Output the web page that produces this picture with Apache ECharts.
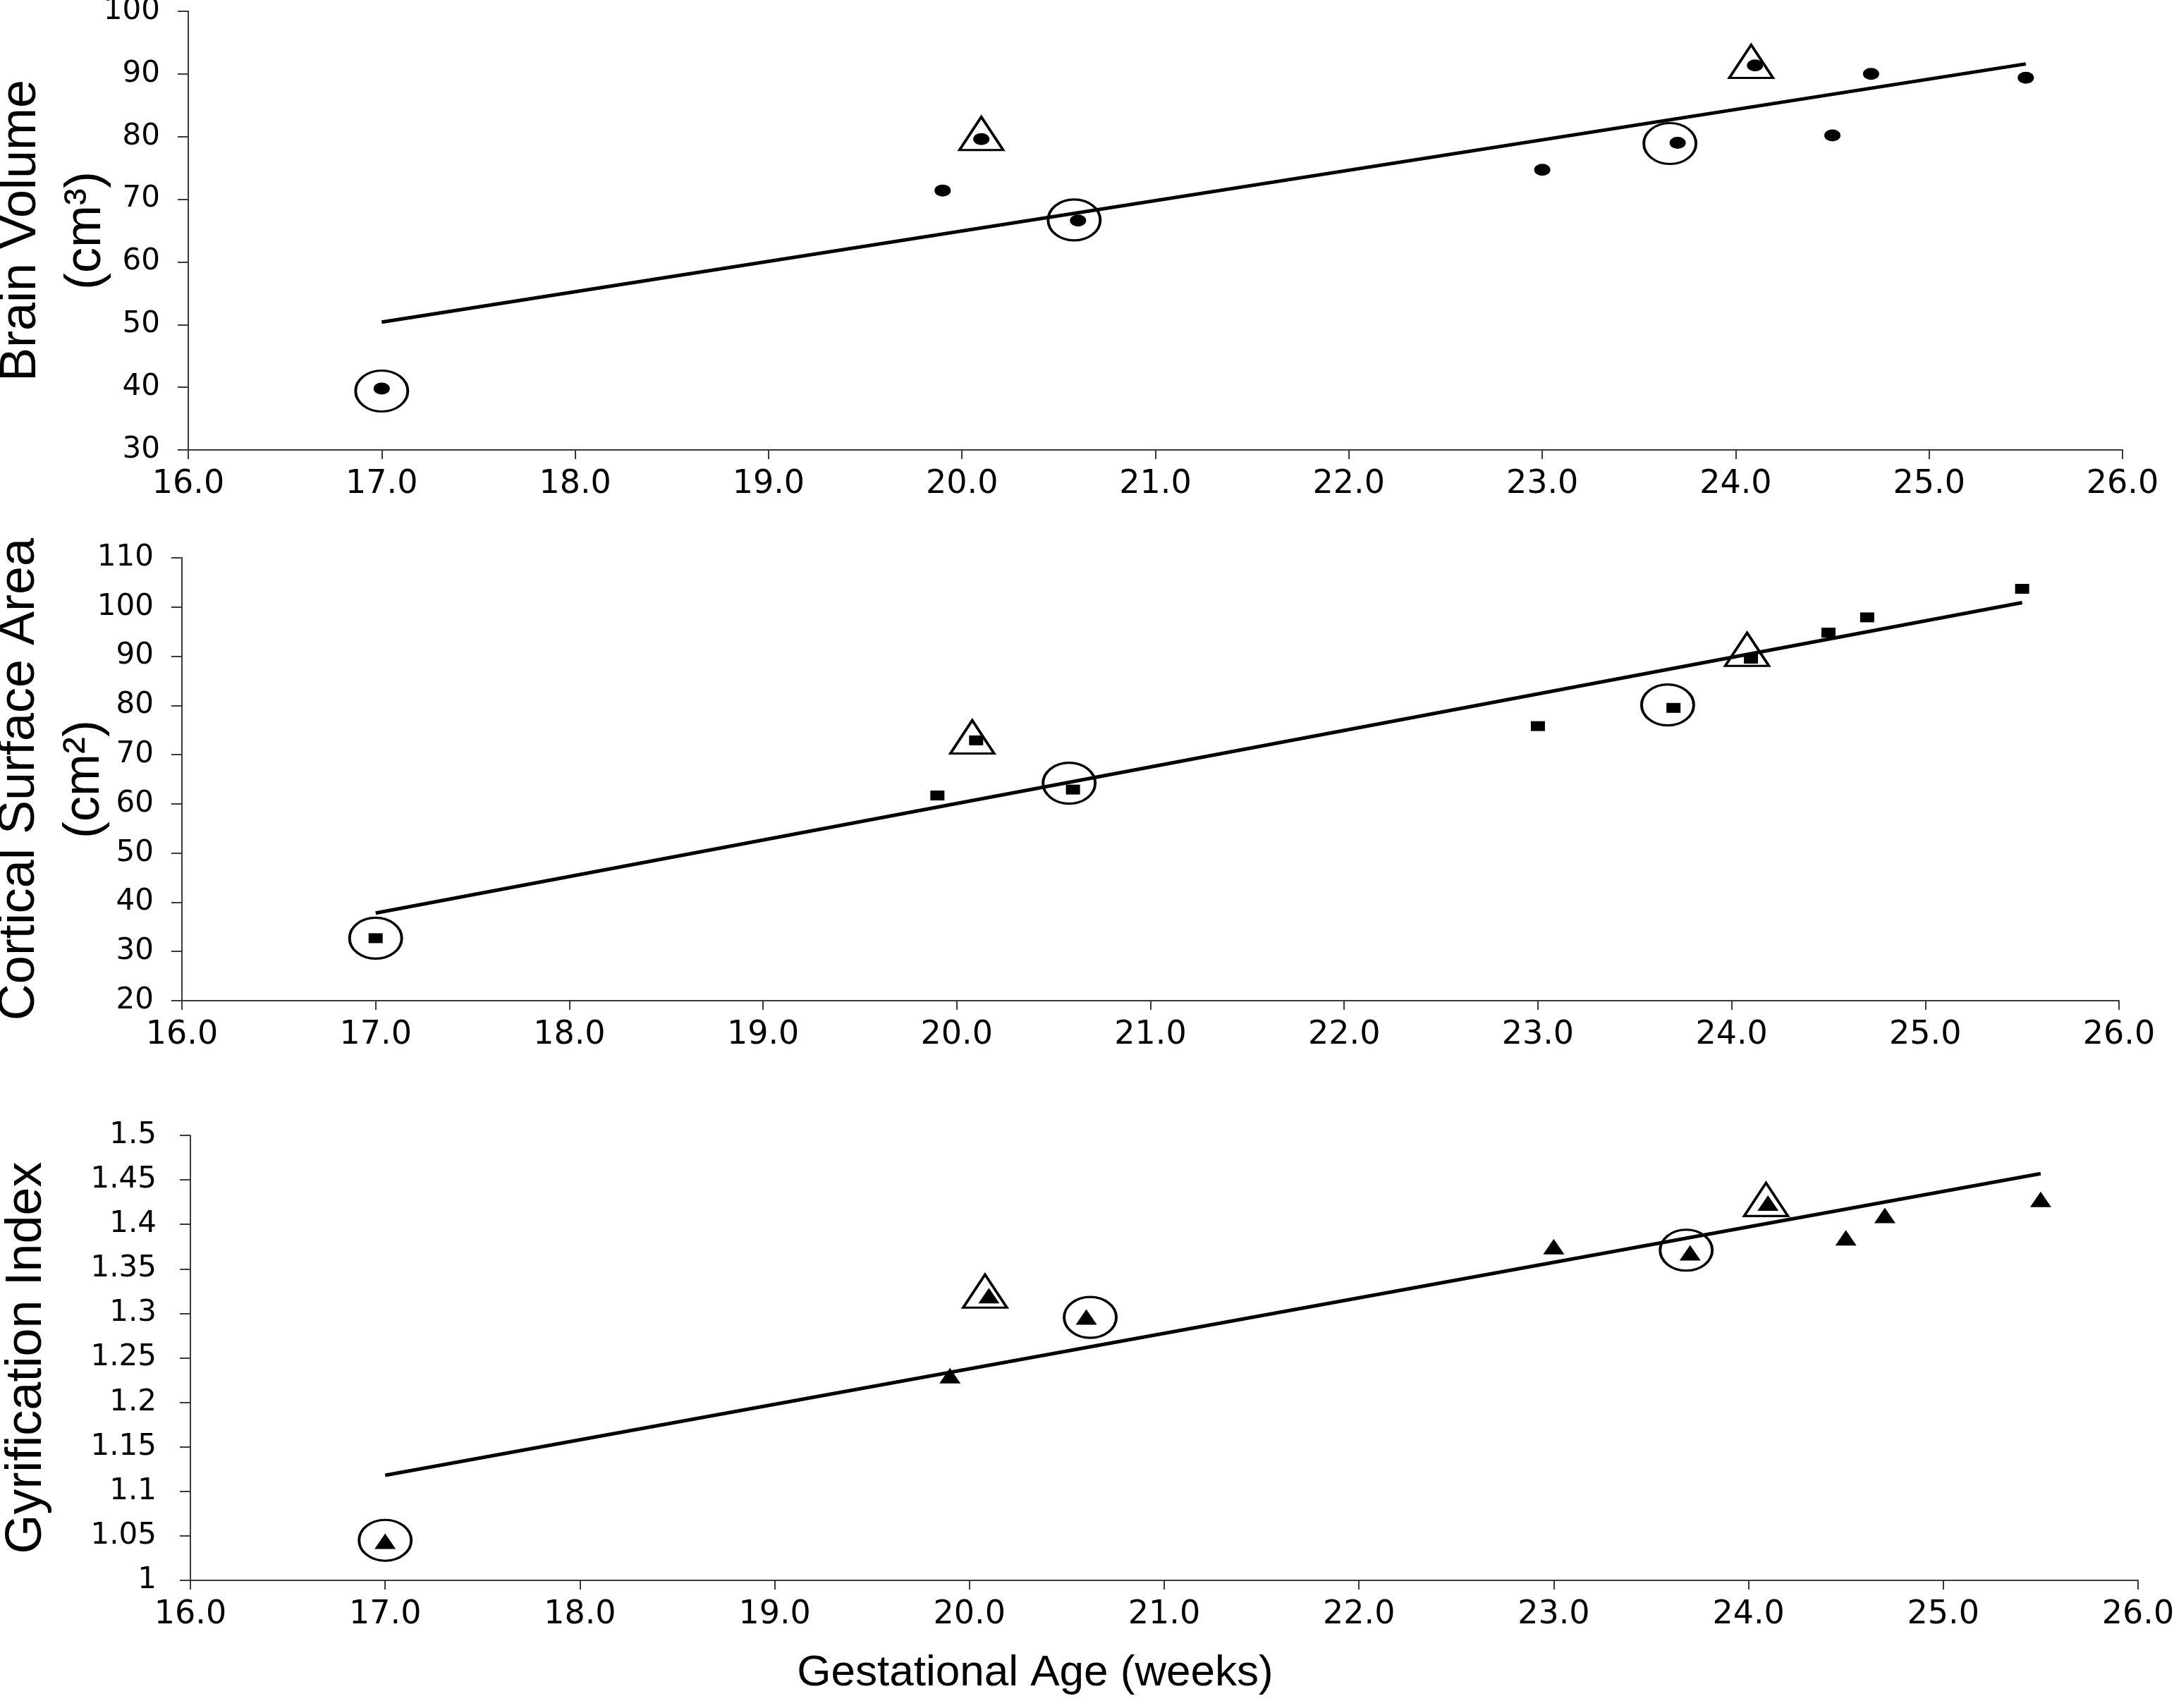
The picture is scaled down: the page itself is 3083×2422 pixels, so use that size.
<!DOCTYPE html>
<html>
<head>
<meta charset="utf-8">
<title>Brain growth vs gestational age</title>
<script src="https://cdn.jsdelivr.net/npm/echarts@6/dist/echarts.min.js"></script>
<style>
  html, body { margin: 0; padding: 0; background: #fff; }
  #main { width: 3083px; height: 2422px; }
</style>
</head>
<body>
<div id="main"></div>
<script>
// gestational age of each case (weeks)
var weeks = [17.0, 19.9, 20.1, 20.6, 23.0, 23.7, 24.1, 24.5, 24.7, 25.5];

// measured values per case
var brainVolume = [39.8, 71.4, 79.6, 66.6, 74.7, 79.0, 91.35, 80.2, 90.0, 89.4];
var surfaceArea = [32.7, 61.7, 72.9, 62.9, 75.8, 79.5, 89.5, 94.8, 97.9, 103.7];
var gyrificationIndex = [1.044, 1.230, 1.320, 1.296, 1.375, 1.368, 1.424, 1.385, 1.410, 1.428];

// highlighted cases: open rings and open triangles [week, value]
var brainCircles = [[17.0, 39.4], [20.58, 66.7], [23.66, 78.9]];
var brainTriangles = [[20.10, 80.5], [24.08, 92.0]];
var areaCircles = [[17.0, 32.7], [20.58, 64.2], [23.67, 80.1]];
var areaTriangles = [[20.08, 73.6], [24.08, 91.4]];
var giCircles = [[17.0, 1.045], [20.62, 1.2955], [23.68, 1.371]];
var giTriangles = [[20.08, 1.325], [24.09, 1.428]];

// linear fit lines, start and end
var brainTrend = [[17.0, 50.4], [25.5, 91.6]];
var areaTrend = [[17.0, 37.8], [25.5, 100.9]];
var giTrend = [[17.0, 1.118], [25.5, 1.457]];

// axis ticks
var xTicks = {min: 16, max: 26, step: 1};
var brainTicks = {min: 30, max: 100, step: 10};
var areaTicks = {min: 20, max: 110, step: 10};
var giTicks = {min: 1, max: 1.5, step: 0.05};

var ELLIPSE = 'path://M0,-1A1,1,0,1,1,0,1A1,1,0,1,1,0,-1Z';
var axisColor = '#3a3a3a';
var titleFont = {color: '#000', fontFamily: 'Liberation Sans', fontSize: 72, lineHeight: 92};

function pairs(xs, ys) {
    return xs.map(function (x, i) { return [x, ys[i]]; });
}

function xAxisFor(index) {
    return {
        type: 'value',
        gridIndex: index,
        min: xTicks.min,
        max: xTicks.max,
        interval: xTicks.step,
        axisLine: {onZero: false, lineStyle: {color: axisColor, width: 2}},
        axisTick: {length: 13, lineStyle: {color: axisColor, width: 2}},
        axisLabel: {
            margin: 26, color: '#000', fontFamily: 'DejaVu Sans', fontSize: 46,
            formatter: function (v) { return v.toFixed(1); }
        },
        splitLine: {show: false}
    };
}

function yAxisFor(index, ticks, name, gap, labelGap) {
    return {
        type: 'value',
        gridIndex: index,
        min: ticks.min,
        max: ticks.max,
        interval: ticks.step,
        name: name,
        nameLocation: 'middle',
        nameGap: gap,
        nameMoveOverlap: false,
        nameTextStyle: titleFont,
        axisLine: {show: true, lineStyle: {color: axisColor, width: 2}},
        axisTick: {show: true, length: 15, lineStyle: {color: axisColor, width: 2}},
        axisLabel: {margin: labelGap, color: '#000', fontFamily: 'DejaVu Sans', fontSize: 42},
        splitLine: {show: false}
    };
}

function panelSeries(index, points, symbol, size, circles, triangles, trend) {
    return [
        {
            type: 'line',
            xAxisIndex: index, yAxisIndex: index,
            data: trend,
            symbol: 'none',
            lineStyle: {color: '#000', width: 5},
            z: 2
        },
        {
            type: 'scatter',
            xAxisIndex: index, yAxisIndex: index,
            data: points,
            symbol: symbol,
            symbolSize: size,
            itemStyle: {color: '#000', opacity: 1},
            z: 3
        },
        {
            type: 'scatter',
            xAxisIndex: index, yAxisIndex: index,
            data: circles,
            symbol: ELLIPSE,
            symbolSize: [74, 58],
            itemStyle: {color: 'rgba(0,0,0,0)', borderColor: '#000', borderWidth: 3.5, opacity: 1},
            z: 4
        },
        {
            type: 'scatter',
            xAxisIndex: index, yAxisIndex: index,
            data: triangles,
            symbol: 'triangle',
            symbolSize: [62, 47],
            itemStyle: {color: 'rgba(0,0,0,0)', borderColor: '#000', borderWidth: 3.5, opacity: 1},
            z: 4
        }
    ];
}

var chart = echarts.init(document.getElementById('main'), null, {renderer: 'canvas'});

chart.setOption({
    backgroundColor: '#fff',
    animation: false,
    grid: [
        {left: 267, right: 73, top: 16, height: 622, outerBoundsMode: 'none', containLabel: false},
        {left: 258, right: 78, top: 791, height: 628, outerBoundsMode: 'none', containLabel: false},
        {left: 270, right: 51, top: 1610, height: 631, outerBoundsMode: 'none', containLabel: false}
    ],
    xAxis: [xAxisFor(0), xAxisFor(1), xAxisFor(2)],
    yAxis: [
        yAxisFor(0, brainTicks, 'Brain Volume\n(cm³)', 99, 40),
        yAxisFor(1, areaTicks, 'Cortical Surface Area\n(cm²)', 92, 40),
        yAxisFor(2, giTicks, 'Gyrification Index', 186, 48)
    ],
    graphic: [
        {
            type: 'text',
            x: 1468,
            y: 2373,
            style: {
                text: 'Gestational Age (weeks)',
                fill: '#000',
                font: '62px "Liberation Sans"',
                textAlign: 'center',
                textVerticalAlign: 'middle'
            }
        }
    ],
    series: [].concat(
        panelSeries(0, pairs(weeks, brainVolume), ELLIPSE, [23, 17], brainCircles, brainTriangles, brainTrend),
        panelSeries(1, pairs(weeks, surfaceArea), 'rect', [20, 14], areaCircles, areaTriangles, areaTrend),
        panelSeries(2, pairs(weeks, gyrificationIndex), 'triangle', [30, 22], giCircles, giTriangles, giTrend)
    )
});
</script>
</body>
</html>
